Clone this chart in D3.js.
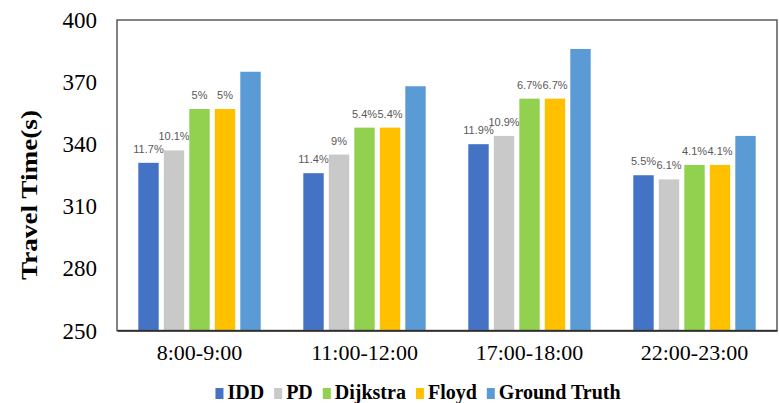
<!DOCTYPE html>
<html><head><meta charset="utf-8">
<script src="https://cdn.jsdelivr.net/npm/d3@7"></script>
<style>body{margin:0;background:#fff}svg{display:block}</style>
</head><body>
<svg id="c" width="779" height="403"></svg>
<script>
const categories = ["8:00-9:00", "11:00-12:00", "17:00-18:00", "22:00-23:00"];
const seriesNames = ["IDD", "PD", "Dijkstra", "Floyd", "Ground Truth"];
const colors = ["#4472C4", "#C9C9C9", "#92D050", "#FFC000", "#5B9BD5"];
const IDD = [331, 326, 340, 325];
const PD = [337, 335, 344, 323];
const Dijkstra = [357, 348, 362, 330];
const Floyd = [357, 348, 362, 330];
const GroundTruth = [375, 368, 386, 344];
const labelsIDD = ["11.7%", "11.4%", "11.9%", "5.5%"];
const labelsPD = ["10.1%", "9%", "10.9%", "6.1%"];
const labelsDijkstra = ["5%", "5.4%", "6.7%", "4.1%"];
const labelsFloyd = ["5%", "5.4%", "6.7%", "4.1%"];
const yTicks = [250, 280, 310, 340, 370, 400];

const seriesValues = [IDD, PD, Dijkstra, Floyd, GroundTruth];
const seriesLabels = [labelsIDD, labelsPD, labelsDijkstra, labelsFloyd, null];

const svg = d3.select("#c");
const L = 117, R = 777, T = 20, B = 330.5;

const x0 = d3.scaleBand().domain(categories).range([L, R]).padding(0);
const bw = x0.bandwidth();
const gw = 127.5;
const x1 = d3.scaleBand().domain(seriesNames)
  .range([(bw - gw) / 2, (bw + gw) / 2]).paddingInner(0.2).paddingOuter(0.1);
const y = d3.scaleLinear().domain([250, 400]).range([B, T]);

// bars
const g = svg.append("g");
categories.forEach((c, ci) => {
  const gg = g.append("g").attr("transform", `translate(${x0(c)},0)`);
  seriesNames.forEach((s, si) => {
    const v = seriesValues[si][ci];
    gg.append("rect")
      .attr("x", x1(s)).attr("width", x1.bandwidth())
      .attr("y", y(v)).attr("height", y(250) - y(v))
      .attr("fill", colors[si]);
    if (seriesLabels[si]) {
      gg.append("text")
        .attr("x", x1(s) + x1.bandwidth() / 2)
        .attr("y", y(v) - 10)
        .attr("text-anchor", "middle")
        .attr("font-family", "'Liberation Sans', Arial, sans-serif")
        .attr("font-size", 11)
        .attr("fill", "#595959")
        .text(seriesLabels[si][ci]);
    }
  });
});

// frame
svg.append("rect").attr("x", L).attr("y", T).attr("width", R - L).attr("height", B - T)
  .attr("fill", "none").attr("stroke", "#595959").attr("stroke-width", 1.5);

// y axis
const yAxis = d3.axisLeft(y).tickValues(yTicks).tickSize(0).tickPadding(20);
const ya = svg.append("g").attr("transform", `translate(${L},0)`).call(yAxis);
ya.select(".domain").remove();
ya.selectAll("text").attr("font-family", "'Liberation Serif', 'Times New Roman', serif")
  .attr("font-size", 23).attr("fill", "#000").attr("dy", "0.33em");

// x axis
const xAxis = d3.axisBottom(x0).tickSize(0).tickPadding(14);
const xa = svg.append("g").attr("transform", `translate(0,${B})`).call(xAxis);
xa.select(".domain").attr("stroke", "#222").attr("stroke-width", 1.5);
xa.selectAll("text").attr("font-family", "'Liberation Serif', 'Times New Roman', serif")
  .attr("font-size", 22).attr("fill", "#000");

// y title
svg.append("text")
  .attr("transform", "translate(37,195) rotate(-90)")
  .attr("text-anchor", "middle")
  .attr("font-family", "'Liberation Serif', 'Times New Roman', serif")
  .attr("font-weight", "bold").attr("font-size", 23)
  .attr("textLength", 170).attr("lengthAdjust", "spacingAndGlyphs")
  .text("Travel Time(s)");

// legend
const lg = svg.append("g");
let cx = 0;
seriesNames.forEach((s, i) => {
  lg.append("rect").attr("x", cx).attr("y", 388).attr("width", 8).attr("height", 11).attr("fill", colors[i]);
  const t = lg.append("text").attr("x", cx + 12).attr("y", 399)
    .attr("font-family", "'Liberation Serif', 'Times New Roman', serif")
    .attr("font-weight", "bold").attr("font-size", 20).attr("fill", "#000").text(s);
  cx += 12 + t.node().getComputedTextLength() + 10;
});
const totalW = cx - 10;
lg.attr("transform", `translate(${418 - totalW / 2},0)`);
</script>
</body></html>
